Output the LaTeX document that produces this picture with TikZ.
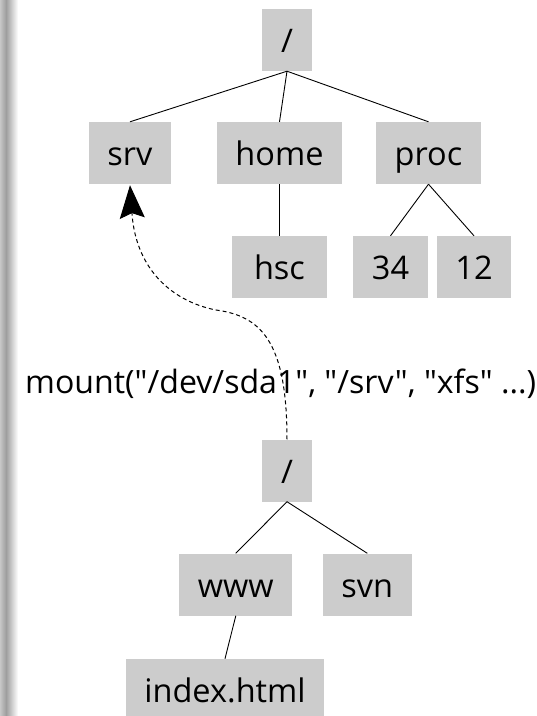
\documentclass[tikz,border=0pt]{standalone}
\usepackage{fontspec}
\setmainfont{Open Sans}
\newfontfamily\plainsans{Open Sans}
\usetikzlibrary{arrows.meta}
\definecolor{boxgray}{HTML}{CCCCCC}
\begin{document}
\begin{tikzpicture}[x=1pt,y=-1pt,
  fsbox/.style={fill=boxgray, inner sep=0pt, minimum height=62pt,
    font=\fontsize{32.5}{38}\selectfont, text height=33.4pt, text depth=8pt},
  treeedge/.style={draw=black, line width=0.9pt},
  mountarrow/.style={draw=black, line width=1pt, dash pattern=on 4pt off 3pt,
    -{Stealth[length=33pt, width=25pt, inset=5pt]}}]
\useasboundingbox (0,0) rectangle (537,716);
\fill[white] (0,0) rectangle (537,716);
\shade[left color=black!22, right color=black!38] (0,0) rectangle (6,716);
\shade[left color=black!38, right color=white] (6,0) rectangle (18,716);

\node[fsbox, minimum width=50pt] (root) at (287,40) {/};
\node[fsbox, minimum width=82pt] (srv) at (130,153) {srv};
\node[fsbox, minimum width=125pt] (home) at (279.5,153) {home};
\node[fsbox, minimum width=105pt] (proc) at (428.5,153) {proc};
\node[fsbox, minimum width=95pt] (hsc) at (279.5,267) {hsc};
\node[fsbox, minimum width=75pt] (n34) at (390.5,267) {34};
\node[fsbox, minimum width=74pt] (n12) at (474,267) {12};

\node[fsbox, minimum width=50pt] (lroot) at (287,470.5) {/};
\node[fsbox, minimum width=113pt] (www) at (235.8,584.5) {www};
\node[fsbox, minimum width=89pt] (svn) at (367.3,584.5) {svn};
\node[fsbox, minimum width=198pt] (index) at (225,690) {index.html};

\node[anchor=base west, inner sep=0pt, font=\plainsans\fontsize{32.1}{38}\selectfont] (mount) at (25,393.3) {mount("/dev/sda1", "/srv", "xfs" ...)};

\draw[treeedge] (root.south) -- (srv.north);
\draw[treeedge] (root.south) -- (home.north);
\draw[treeedge] (root.south) -- (proc.north);
\draw[treeedge] (home.south) -- (hsc.north);
\draw[treeedge] (proc.south) -- (n34.north);
\draw[treeedge] (proc.south) -- (n12.north);
\draw[treeedge] (lroot.south) -- (www.north);
\draw[treeedge] (lroot.south) -- (svn.north);
\draw[treeedge] (www.south) -- (index.north);

\coordinate (bend) at (216,310);
\draw[mountarrow] (lroot.north) .. controls (287,340) and (260,316) .. (bend)
  .. controls (175,302) and (136,272) .. ([yshift=-1pt]srv.south);
\end{tikzpicture}
\end{document}
